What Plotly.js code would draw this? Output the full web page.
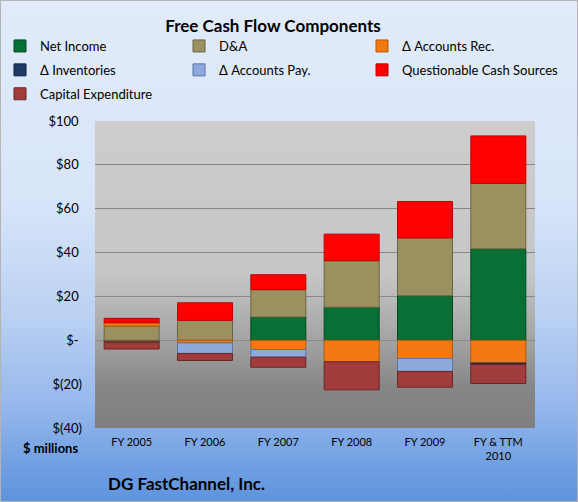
<!DOCTYPE html>
<html>
<head>
<meta charset="utf-8">
<script src="https://cdn.plot.ly/plotly-3.0.1.min.js"></script>
<style>
  html, body { margin: 0; padding: 0; background: #ffffff; }
  #wrap { position: relative; width: 578px; height: 502px; }
  #chart { width: 578px; height: 502px;
    background: linear-gradient(to bottom, #e1ebfa 0%, #d8e5f9 40%, #bcd2f3 62%, #98b9ec 80%, #6f9fe2 93%, #5e93dd 100%); }
  #frame { position: absolute; left: 0; top: 0; width: 578px; height: 502px; box-sizing: border-box;
    border: 1px solid #b4b4b4; pointer-events: none; }
</style>
</head>
<body>
<div id="wrap"><div id="chart"></div><div id="frame"></div></div>
<script>
// ---- data ($ millions) ----
const categories = ['FY 2005', 'FY 2006', 'FY 2007', 'FY 2008', 'FY 2009', 'FY & TTM<br>2010'];
const netIncome = [-1.0, null, 10.6, 15.1, 20.3, 41.7];
const depreciationAmort = [6.5, 9.1, 12.5, 21.2, 26.4, 29.8];
const accountsRec = [1.5, -1.2, -4.2, -9.8, -8.3, -10.4];
const inventories = [null, null, null, null, null, -0.6];
const accountsPay = [null, -4.8, -3.5, null, -5.9, null];
const questionableCash = [2.0, 8.0, 6.8, 12.1, 16.6, 21.7];
const capitalExpenditure = [-3.0, -3.2, -4.6, -12.8, -7.2, -8.7];
const seriesNames = ['Net Income', 'D&A', '\u0394 Accounts Rec.', '\u0394 Inventories', '\u0394 Accounts Pay.', 'Questionable Cash Sources', 'Capital Expenditure'];
const yTickVals = [100, 80, 60, 40, 20, 0, -20, -40];
const yTickText = ['$100\u00a0', '$80\u00a0', '$60\u00a0', '$40\u00a0', '$20\u00a0', '$-\u00a0', '$(20)', '$(40)'];

// ---- styling ----
const FONT = 'Lato, "Open Sans", sans-serif';
const fills = ['#077035', '#9b9160', '#f37a12', '#1f3a66', '#8eaadc', '#ff0000', '#a03c3c'];
const edges = ['#04461f', '#6b6440', '#b3580a', '#11223d', '#5b75a6', '#c00000', '#6c2525'];
// legend columns: col1 = legend, col2 = legend2, col3 = legend3
const legendIds = ['legend', 'legend2', 'legend3', 'legend', 'legend2', 'legend3', 'legend'];
const values = [netIncome, depreciationAmort, accountsRec, inventories, accountsPay, questionableCash, capitalExpenditure];

const L = 95, R = 43, T = 121, B = 74, W = 578 - L - R, H = 502 - T - B;
const xp = px => (px - L) / W;
const yp = py => (502 - B - py) / H;
const cx = px => px / 578;
const cy = py => 1 - py / 502;

const traces = values.map((v, i) => ({
  type: 'bar', name: seriesNames[i], x: categories, y: v,
  marker: { color: fills[i], line: { color: edges[i], width: 1 } },
  legend: legendIds[i], legendgroup: 'g' + i, hoverinfo: 'skip'
}));

const bgSvg = "<svg xmlns='http://www.w3.org/2000/svg' width='100' height='100' preserveAspectRatio='none'>" +
  "<defs><linearGradient id='g' x1='0' y1='0' x2='0' y2='1'>" +
  "<stop offset='0' stop-color='#cdcdcd'/><stop offset='0.5' stop-color='#c6c6c6'/>" +
  "<stop offset='0.72' stop-color='#a2a2a2'/><stop offset='0.87' stop-color='#868686'/>" +
  "<stop offset='1' stop-color='#7f7f7f'/></linearGradient></defs>" +
  "<rect width='100' height='100' fill='url(#g)'/></svg>";

const legendBase = {
  orientation: 'v', xref: 'container', yref: 'container', xanchor: 'left', yanchor: 'top',
  bgcolor: 'rgba(0,0,0,0)', borderwidth: 0, tracegroupgap: 4, traceorder: 'grouped',
  font: { family: FONT, size: 13, color: '#000' }, y: cy(31)
};

const layout = {
  width: 578, height: 502,
  margin: { l: L, r: R, t: T, b: B, pad: 0, autoexpand: false },
  paper_bgcolor: 'rgba(0,0,0,0)', plot_bgcolor: 'rgba(0,0,0,0)',
  barmode: 'relative', bargap: 0.25,
  font: { family: FONT, color: '#000' },
  title: { text: 'Free Cash Flow Components', xref: 'container', yref: 'container',
    x: 273 / 578, xanchor: 'center', y: 1 - 26 / 502, yanchor: 'middle',
    font: { family: FONT, size: 17, weight: 'bold', color: '#000' } },
  xaxis: { type: 'category', showgrid: false, zeroline: false, showline: false, ticks: '',
    tickfont: { family: FONT, size: 11, color: '#000' }, ticklabelstandoff: 6, fixedrange: true },
  yaxis: { range: [-40, 100], tickvals: yTickVals, ticktext: yTickText, showgrid: true,
    gridcolor: '#878787', gridwidth: 1, zeroline: true, zerolinecolor: '#878787', zerolinewidth: 1,
    showline: false, ticks: '', tickfont: { family: FONT, size: 13, color: '#000' },
    ticklabelstandoff: 12, fixedrange: true },
  legend: Object.assign({}, legendBase, { x: cx(0) }),
  legend2: Object.assign({}, legendBase, { x: cx(179) }),
  legend3: Object.assign({}, legendBase, { x: cx(362) }),
  images: [{ source: 'data:image/svg+xml;charset=utf-8,' + encodeURIComponent(bgSvg),
    xref: 'paper', yref: 'paper', x: 0, y: 1, sizex: 1, sizey: 1, sizing: 'stretch',
    xanchor: 'left', yanchor: 'top', layer: 'below' }],
  annotations: [
    { text: '$ millions', xref: 'paper', yref: 'paper', x: xp(50), y: yp(448),
      xanchor: 'center', yanchor: 'middle', showarrow: false,
      font: { family: FONT, size: 13, weight: 'bold', color: '#000' } },
    { text: 'DG FastChannel, Inc.', xref: 'paper', yref: 'paper', x: xp(186), y: yp(483),
      xanchor: 'center', yanchor: 'middle', showarrow: false,
      font: { family: FONT, size: 17, weight: 'bold', color: '#000' } }
  ],
  showlegend: true
};

Plotly.newPlot('chart', traces, layout, { displayModeBar: false, staticPlot: true });
</script>
</body>
</html>
